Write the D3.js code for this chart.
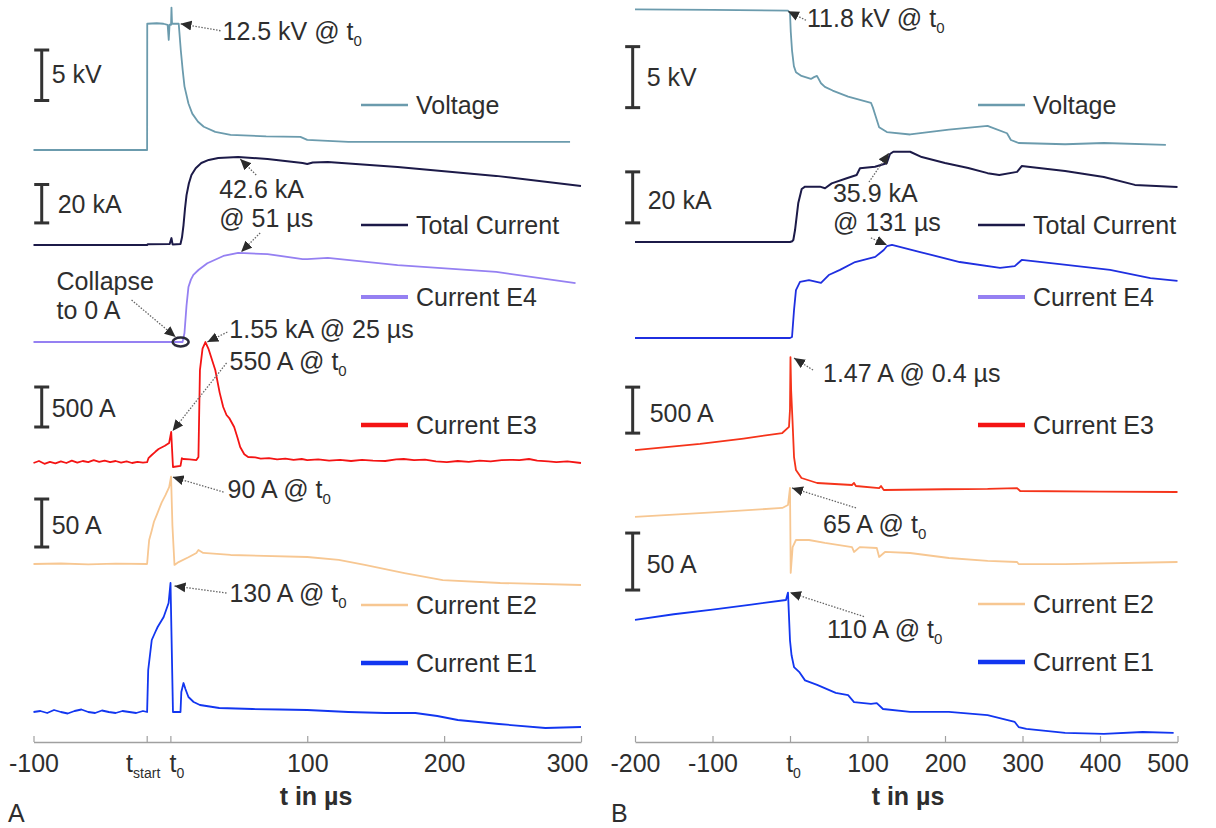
<!DOCTYPE html>
<html>
<head>
<meta charset="utf-8">
<script src="https://cdn.jsdelivr.net/npm/d3@7"></script>
<style>
  body { margin: 0; background: #fff; }
  svg text { font-family: "Liberation Sans", Arial, sans-serif; fill: #2e2e2e; }
</style>
</head>
<body>
<svg id="chart" width="1216" height="828"></svg>
<script>
// ---- data: t in µs, values in kV / kA / A ----

// axis ticks ('|' marks a subscript)
var ticksA = [-100, -17.3, 0, 100, 200, 300];
var tickLabelsA = ['-100', 't|start', 't|0', '100', '200', '300'];
var ticksB = [-200, -100, 0, 100, 200, 300, 400, 500];
var tickLabelsB = ['-200', '-100', 't|0', '100', '200', '300', '400', '500'];

// panel A
var voltageA = [[-100,0],[-17,0],[-16.9,12.5],[-10,12.55],[-5,12.5],[-2,12.4],[-1.2,10.9],[-0.6,12.4],[0.5,12.4],[0.8,14.1],[1.2,12.5],[3,12.5],[6.1,12.5],[7.6,9.9],[9,7.9],[10.3,6.3],[13.2,4.6],[16,3.6],[20.2,2.8],[24.4,2.3],[32.8,1.8],[44,1.5],[70,1.35],[95,1.3],[100,1.0],[130,0.8],[200,0.8],[292,0.8]];
var totalA = [[-100,0],[-17,0],[-16.5,0.4],[-0.5,0.5],[0.8,3.6],[1.6,0.3],[7.4,0.5],[8.5,4],[9.6,10.4],[10.7,19],[11.8,26],[13.5,32],[15.4,36.5],[18.5,40],[22.6,42.7],[28,44.3],[35,45.3],[49.5,45.8],[71,44.8],[96.6,42.7],[100,42.2],[104,43],[115,43.2],[166,40.6],[238,36],[300,30.7]];
var e4A = [[-100,0],[8.9,0],[10.3,4.7],[11.8,19],[13.2,28.6],[15,32.5],[16.8,35],[20.5,37.5],[27,41],[38.7,44.8],[49.5,46.4],[71,45.8],[96.6,43.2],[100,43.2],[115,43.8],[166,40],[238,36.5],[296,30.7]];
var e3A = [[-100,0],[-96,25],[-92,-10],[-88,15],[-84,-5],[-80,20],[-76,0],[-72,30],[-68,5],[-64,25],[-60,10],[-56,35],[-52,15],[-48,30],[-44,10],[-40,25],[-36,5],[-32,20],[-28,0],[-24,15],[-20,5],[-17,10],
  [-16,60],[-13.6,100],[-11,140],[-8.6,175],[-4,215],[-0.9,250],[0.6,390],[1.3,150],[1.9,-50],[7.4,-37],[8.4,60],[9.5,50],[14,45],[19,37],[20.5,75],[21.6,1162],[23.5,1430],[25.6,1512],[28,1420],[32.8,1162],[36,880],[38.6,700],[41,600],[43,562],[46.6,450],[49,320],[51,200],[54,110],[56.8,75],
  [62,70],[66,55],[72,62],[78,45],[84,55],[90,40],[96,50],[100,37],[108,45],[116,30],[124,40],[132,25],[140,38],[148,30],[157,25],[165,45],[170.5,50],[178,35],[186,42],[194,20],[202,12],[210,25],[218,15],[226,30],[234,20],[242,35],[250,40],[255,37],[262,50],[268,30],[276,20],[282,12],[290,20],[300,0]];
var e2A = [[-100,0],[-80,0.5],[-60,-0.3],[-40,0.4],[-17,0],[-16.2,14],[-15.5,25],[-13.6,35],[-12,44],[-10,51],[-6.4,64],[-3.5,72],[-0.9,80],[0.5,91],[1.5,40],[3,-1],[6,2],[13.2,7],[19,11.5],[20.5,14.6],[24,11.5],[44,9.4],[100,7.3],[123,4.2],[142,-1],[171,-9.4],[199,-16.7],[241,-19.8],[300,-21.9]];
var e1A = [[-100,0],[-95,1],[-90,-1],[-85,2],[-80,0],[-75,-1.5],[-70,1],[-65,2.5],[-60,0],[-55,-1],[-50,1.5],[-45,0],[-40,-1],[-35,1],[-30,0],[-25,-1],[-20,1],[-17,0],[-16.2,42],[-13.6,72],[-11,80],[-9.3,85],[-4.9,95],[-1.3,109],[0.1,129],[1.9,0],[7.4,0],[8,20],[9.6,29],[11,23],[13.2,15],[17,10],[21.6,7],[35.7,4],[60,3],[80,2.5],[100,2],[130,0],[157,-1],[179,-1],[195,-4],[210,-8],[240,-12],[274,-16],[300,-15]];

// panel B
var voltageB = [[-200,11.86],[-100,11.82],[-2.6,11.75],[0,11.56],[1,10],[2.6,8.5],[5,7.2],[7.7,6.7],[14.8,6.4],[27,6.15],[31,6.3],[34.8,6.4],[40,5.8],[45,5.5],[55,5.2],[75,4.7],[104.5,4.2],[107,3.8],[110,3.2],[115,2.2],[125,1.8],[155,1.6],[205,2.0],[255,2.3],[259,2.2],[280,1.7],[285,1.15],[295,0.9],[355,0.8],[405,0.9],[485,0.75]];
var totalB = [[-200,0],[0,0],[3,0.3],[4.3,0.8],[6.5,4.7],[10.7,15.3],[15.1,20.8],[19.4,21.7],[38.7,21.7],[45.2,21.1],[53.8,23],[73.2,25],[86,26.3],[90.3,28.9],[109.7,29.5],[124.8,30.9],[129,34.5],[133.3,35.4],[155,35.4],[170,33.3],[200,31],[230,29],[255,27],[270,26.3],[293,27.5],[299,29.8],[310,29.4],[355,27.8],[405,25.5],[445,22.4],[500,21.6]];
var e4B = [[-200,0],[0,0],[2.6,0.4],[5.2,11],[7.7,18.8],[12.9,22],[24.5,22.7],[40,21.6],[50,24.7],[64.5,26.7],[84,29.8],[110,31.8],[121,34.5],[125,36],[131.6,36.5],[168,33.7],[219,29.8],[271,27.5],[290,28.2],[299,30.6],[348,29],[413,26.7],[465,23.5],[500,22.4]];
var e3B = [[-200,456],[-116,522],[-60,580],[-10,641],[-1.3,707],[0,900],[0.6,1467],[1.5,1100],[3.2,783],[5.2,380],[7.7,239],[14.8,152],[35,98],[80,76],[82.6,98],[85,65],[115,43],[117.4,65],[121,22],[200,30],[255,33],[293,43],[297,11],[400,5],[500,0]];
var e2B = [[-200,39.5],[-100,43.5],[-10,47.4],[-2.6,50],[0,65],[0.9,-9.6],[3.4,13],[7.7,19.3],[24.5,19.3],[45,16.7],[80,13],[82.6,8.8],[90,13],[112,12.3],[115,4.4],[122.6,8.8],[155,7.9],[205,3.5],[255,0.9],[293,0],[295,-1.8],[355,-1.8],[500,0]];
var e1B = [[-200,86],[-150,91],[-100,95],[-50,99.5],[-5.2,103.5],[-2.6,110],[0,68],[2,55],[5.2,44.7],[12.4,40],[19.4,33],[35,29],[59,22],[75,20],[82.6,14],[104.5,12.3],[112,13],[120,7.9],[155,5.3],[205,5.3],[255,2.6],[290,-3.5],[295,-7.9],[305,-9.6],[355,-13],[405,-14],[455,-12.3],[495,-13]];

var seriesNames = ['Voltage', 'Total Current', 'Current E4', 'Current E3', 'Current E2', 'Current E1'];
var seriesColors = ['#6b9bad', '#1c1a48', '#9580f2', '#f41414', '#f7c792', '#1236f0'];
var legendWidths = [2.5, 2.5, 4, 4.5, 2.5, 4.5];

// ---- layout of each trace lane: base = pixel of zero, k = px per unit ----
var lanesA = [
  {data: voltageA, base: 150, k: 10.1, bar: {v0: 4.9, span: 5, label: '5 kV', dx: 10, dy: 8}},
  {data: totalA, base: 245, k: 1.92, bar: {v0: 11.5, span: 20, label: '20 kA', dx: 16, dy: 9}},
  {data: e4A, base: 342, k: 1.92},
  {data: e3A, base: 463, k: 0.08, bar: {v0: 450, span: 500, label: '500 A', dx: 10, dy: 10}},
  {data: e2A, base: 564, k: 0.96, bar: {v0: 17.7, span: 50, label: '50 A', dx: 10, dy: 11}},
  {data: e1A, base: 712, k: 1.0}
];
var lanesB = [
  {data: voltageB, base: 154, k: 12.2, bar: {v0: 3.8, span: 5, label: '5 kV', dx: 14, dy: 9}},
  {data: totalB, base: 242, k: 2.55, bar: {v0: 7.5, span: 20, label: '20 kA', dx: 15, dy: 12}},
  {data: e4B, base: 338, k: 2.55, color: '#1f2fe0'},
  {data: e3B, base: 492, k: 0.092, color: '#f5331a', bar: {v0: 640, span: 500, label: '500 A', dx: 17, dy: 12}},
  {data: e2B, base: 562, k: 1.14, bar: {v0: -24.6, span: 50, label: '50 A', dx: 14, dy: 11}},
  {data: e1B, base: 718, k: 1.14}
];

// annotations: target on lane (t, v), tail and text offsets in px
var notesA = [
  {lane: 0, t: 7.4, v: 12.5, tail: [40, 7], text: [42, 16], lines: ['12.5 kV @ t|0']},
  {lane: 1, t: 51, v: 44.8, tail: [16, 16], text: [-21, 39], lines: ['42.6 kA', '@ 51 µs']},
  {lane: 2, t: 51.7, v: 46.9, tail: [19, -19], lines: []},
  {lane: 2, t: 3.8, v: 2.6, tail: [-44, -37], text: [-119, -47], lines: ['Collapse', 'to 0 A']},
  {lane: 3, t: 27, v: 1512, tail: [20, -10], text: [22, -4], lines: ['1.55 kA @ 25 µs']},
  {lane: 3, t: 1.6, v: 400, tail: [54, -68], text: [57, -61], lines: ['550 A @ t|0']},
  {lane: 4, t: 1.6, v: 90.6, tail: [51, 15], text: [55, 21], lines: ['90 A @ t|0']},
  {lane: 5, t: 3, v: 126, tail: [52, 7], text: [55, 16], lines: ['130 A @ t|0']}
];
var notesB = [
  {lane: 0, t: -2.6, v: 11.7, tail: [18, 9], text: [19, 16], lines: ['11.8 kV @ t|0']},
  {lane: 1, t: 127.7, v: 34.9, tail: [-20, 29], text: [-56, 49], lines: ['35.9 kA', '@ 131 µs']},
  {lane: 2, t: 125, v: 36.5, tail: [-16, -7], lines: []},
  {lane: 3, t: 5.2, v: 1456, tail: [19, 12], text: [29, 24], lines: ['1.47 A @ 0.4 µs']},
  {lane: 4, t: 2.6, v: 65, tail: [64, 20], text: [31, 45], lines: ['65 A @ t|0']},
  {lane: 5, t: 0, v: 110, tail: [74, 24], text: [37, 45], lines: ['110 A @ t|0']}
];

var panels = [
  {letter: 'A', x: d3.scaleLinear().domain([-100, 300]).range([33.5, 581]), ticks: ticksA, tickLabels: tickLabelsA,
   tickDx: [0, -4, 6, 0, 0, -14],
   lanes: lanesA, notes: notesA, barT: -94, legendX: 361, legendRows: [105, 225, 297, 425, 605, 663], letterX: 8, titleX: 316,
   collapse: {lane: 2, t: 7.5, v: 0}},
  {letter: 'B', x: d3.scaleLinear().domain([-200, 500]).range([635, 1177.5]), ticks: ticksB, tickLabels: tickLabelsB,
   tickDx: [0, 0, 3, 0, 0, 0, 0, -10],
   lanes: lanesB, notes: notesB, barT: -203, legendX: 978, legendRows: [105, 225, 297, 425, 604, 662], letterX: 611, titleX: 908}
];

var axisY = 742;
var fontSize = 25;

var svg = d3.select('#chart');

svg.append('defs').append('marker')
    .attr('id', 'head')
    .attr('viewBox', '0 0 10 10')
    .attr('refX', 10).attr('refY', 5)
    .attr('markerWidth', 11).attr('markerHeight', 11)
    .attr('markerUnits', 'userSpaceOnUse')
    .attr('orient', 'auto')
  .append('path')
    .attr('d', 'M0,0.5L10,5L0,9.5Z')
    .attr('fill', '#2b2b2b');

// text with an optional subscript after '|'
function richText(sel, str, subSize) {
    var parts = str.split('|');
    sel.text(parts[0]);
    if (parts.length > 1) {
        sel.append('tspan').attr('font-size', subSize || 15).attr('dy', 6).text(parts[1]);
    }
}

panels.forEach(function(p) {
    var g = svg.append('g');

    p.lanes.forEach(function(lane) {
        lane.y = d3.scaleLinear().domain([0, 1]).range([lane.base, lane.base - lane.k]);
    });

    // traces
    p.lanes.forEach(function(lane, i) {
        var line = d3.line()
            .x(function(d) { return p.x(d[0]); })
            .y(function(d) { return lane.y(d[1]); });
        g.append('path')
            .datum(lane.data)
            .attr('d', line)
            .attr('fill', 'none')
            .attr('stroke', lane.color || seriesColors[i])
            .attr('stroke-width', i === 1 ? 2 : 1.8)
            .attr('stroke-linejoin', 'round');
    });

    // scale bars
    p.lanes.forEach(function(lane) {
        if (!lane.bar) return;
        var bx = p.x(p.barT);
        var y0 = lane.y(lane.bar.v0), y1 = lane.y(lane.bar.v0 + lane.bar.span);
        var bar = g.append('g').attr('stroke', '#333').attr('stroke-width', 3);
        bar.append('line').attr('x1', bx).attr('x2', bx).attr('y1', y0).attr('y2', y1);
        bar.append('line').attr('x1', bx - 7.5).attr('x2', bx + 7.5).attr('y1', y0).attr('y2', y0);
        bar.append('line').attr('x1', bx - 7.5).attr('x2', bx + 7.5).attr('y1', y1).attr('y2', y1);
        g.append('text')
            .attr('x', bx + lane.bar.dx)
            .attr('y', (y0 + y1) / 2 + lane.bar.dy)
            .attr('font-size', fontSize)
            .text(lane.bar.label);
    });

    // legend
    seriesNames.forEach(function(name, i) {
        var ly = p.legendRows[i];
        g.append('line')
            .attr('x1', p.legendX).attr('x2', p.legendX + 47)
            .attr('y1', ly).attr('y2', ly)
            .attr('stroke', seriesColors[i])
            .attr('stroke-width', legendWidths[i]);
        g.append('text')
            .attr('x', p.legendX + 55)
            .attr('y', ly + 9)
            .attr('font-size', fontSize)
            .text(name);
    });

    // collapse marker
    if (p.collapse) {
        var cl = p.lanes[p.collapse.lane];
        g.append('ellipse')
            .attr('cx', p.x(p.collapse.t)).attr('cy', cl.y(p.collapse.v))
            .attr('rx', 8).attr('ry', 4.5)
            .attr('fill', 'none').attr('stroke', '#2a2a3a').attr('stroke-width', 2.5);
    }

    // annotations
    p.notes.forEach(function(n) {
        var tx = p.x(n.t), ty = p.lanes[n.lane].y(n.v);
        g.append('line')
            .attr('x1', tx + n.tail[0]).attr('y1', ty + n.tail[1])
            .attr('x2', tx).attr('y2', ty)
            .attr('stroke', '#666').attr('stroke-width', 1.3)
            .attr('stroke-dasharray', '1.5,1.5')
            .attr('marker-end', 'url(#head)');
        n.lines.forEach(function(str, j) {
            g.append('text')
                .attr('x', tx + n.text[0])
                .attr('y', ty + n.text[1] + j * 29)
                .attr('font-size', fontSize)
                .call(richText, str);
        });
    });

    // x axis, ticks pointing up
    var axis = d3.axisBottom(p.x)
        .tickValues(p.ticks)
        .tickSizeInner(-6)
        .tickSizeOuter(0)
        .tickPadding(12)
        .tickFormat(function() { return ''; });
    var ax = g.append('g').attr('transform', 'translate(0,' + axisY + ')').call(axis);
    ax.select('.domain').attr('stroke', '#a0a0a0').attr('stroke-width', 1.3);
    ax.selectAll('.tick line').attr('stroke', '#a0a0a0').attr('stroke-width', 1.2);
    ax.selectAll('.tick text')
        .attr('font-size', fontSize)
        .attr('font-family', '"Liberation Sans", Arial, sans-serif')
        .attr('fill', '#2e2e2e')
        .attr('dx', function(d, i) { return p.tickDx[i]; })
        .each(function(d, i) { d3.select(this).call(richText, p.tickLabels[i], 14); });

    g.append('text')
        .attr('x', p.titleX).attr('y', 805)
        .attr('text-anchor', 'middle')
        .attr('font-size', fontSize)
        .attr('font-weight', 'bold')
        .text('t in µs');

    g.append('text')
        .attr('x', p.letterX).attr('y', 822)
        .attr('font-size', fontSize)
        .text(p.letter);
});
</script>
</body>
</html>
